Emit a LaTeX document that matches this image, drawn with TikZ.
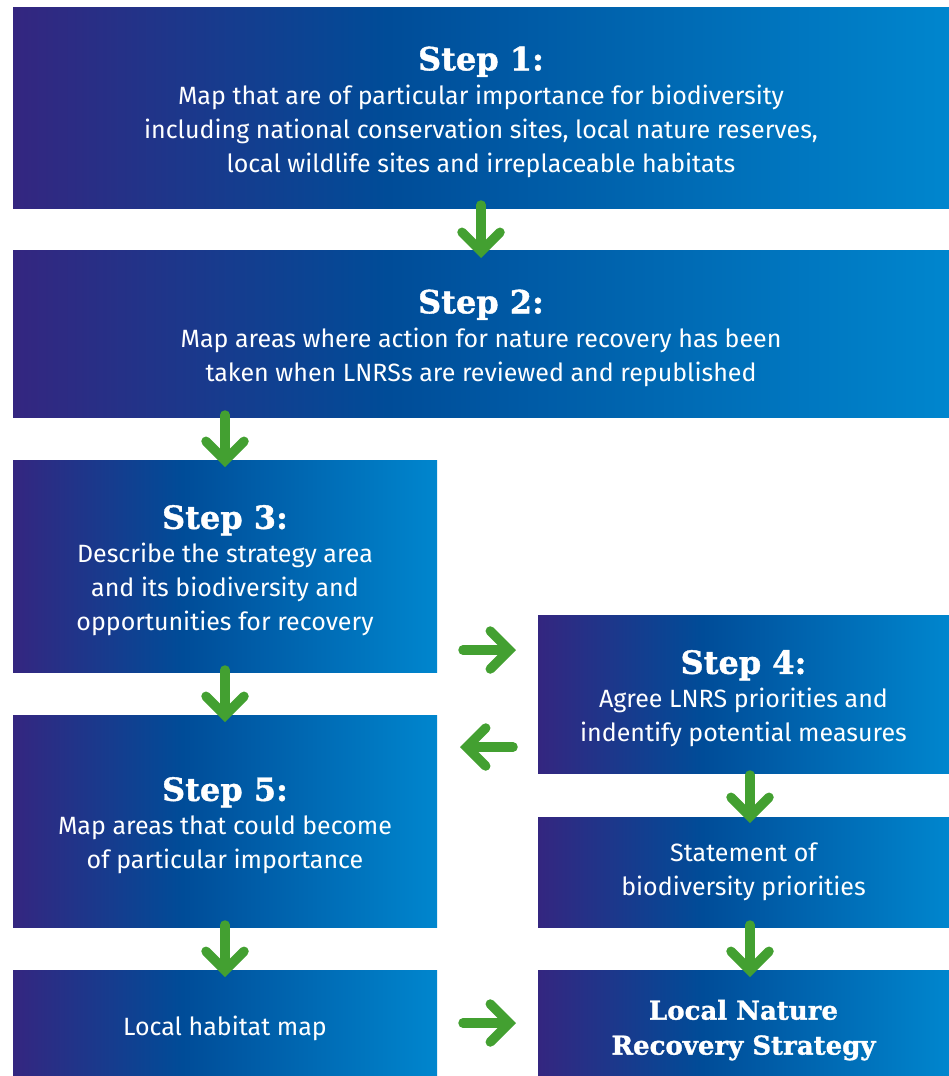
\documentclass[tikz,border=0pt]{standalone}
\usepackage{fontspec}
\setmainfont{Fira Sans}
\newfontfamily\headfont[BoldFeatures={FakeBold=1.2}]{DejaVu Serif}
\usetikzlibrary{arrows.meta}
\definecolor{cA}{RGB}{52,38,128}
\definecolor{cB}{RGB}{0,76,152}
\definecolor{cC}{RGB}{0,134,206}
\definecolor{garrowc}{RGB}{67,160,49}
\pgfdeclarehorizontalshading{boxshade}{100bp}{color(0bp)=(cA); color(25bp)=(cA); color(45bp)=(cB); color(75bp)=(cC); color(100bp)=(cC)}
\newcommand{\hd}[1]{{\headfont\bfseries\fontsize{32}{34}\selectfont\rule{0pt}{33pt}#1}}
\newcommand{\tstrut}[1]{\rule{0pt}{#1}}
\tikzset{
  box/.style={shading=boxshade, anchor=north west, inner sep=0pt, outer sep=0pt,
    text=white, align=center, font=\fontsize{25}{34}\selectfont},
  garrow/.style={draw=garrowc, line width=9.5pt, line cap=round,
    -{Straight Barb[length=19pt,width=38pt,line cap=round,line join=miter]}}
}
\begin{document}
\begin{tikzpicture}[x=1pt,y=1pt]
\useasboundingbox (0,0) rectangle (949,-1076);
\node[box, minimum width=936pt, minimum height=201pt] (b1) at (13,-7)
  {\hd{Step 1:}\\Map that are of particular importance for biodiversity\\including national conservation sites, local nature reserves,\\local wildlife sites and irreplaceable habitats};
\node[box, minimum width=936pt, minimum height=167pt] (b2) at (13,-250)
  {\hd{Step 2:}\\Map areas where action for nature recovery has been\\taken when LNRSs are reviewed and republished};
\node[box, minimum width=424pt, minimum height=212pt] (b3) at (13,-460)
  {\hd{Step 3:}\\Describe the strategy area\\and its biodiversity and\\opportunities for recovery};
\node[box, minimum width=424pt, minimum height=212pt] (b5) at (13,-715)
  {\hd{Step 5:}\\Map areas that could become\\of particular importance};
\node[box, minimum width=424pt, minimum height=106pt] (hab) at (13,-970)
  {\tstrut{31pt}Local habitat map};
\node[box, minimum width=411pt, minimum height=158pt] (b4) at (538,-615)
  {\hd{Step 4:}\\Agree LNRS priorities and\\indentify potential measures};
\node[box, minimum width=411pt, minimum height=110pt] (st) at (538,-817)
  {Statement of\\biodiversity priorities};
\node[box, minimum width=411pt, minimum height=106pt, font=\headfont\bfseries\fontsize{26}{35}\selectfont] (ln) at (538,-970)
  {\tstrut{34pt}Local Nature\\Recovery Strategy};
% arrows
\draw[garrow] ([yshift=3pt]b1.south) -- ([yshift=-8pt]b2.north);
\draw[garrow] ([yshift=2pt]b2.south -| b3.south) -- ([yshift=-7pt]b3.north);
\draw[garrow] ([yshift=2pt]b3.south) -- ([yshift=-7pt]b5.north);
\draw[garrow] ([yshift=2pt]b5.south) -- ([yshift=-7pt]hab.north);
\draw[garrow] ([xshift=6.5pt,yshift=-2pt]b4.south) -- ([xshift=6.5pt,yshift=-6pt]st.north);
\draw[garrow] ([xshift=6.5pt,yshift=2pt]st.south) -- ([xshift=6.5pt,yshift=-7pt]ln.north);
\draw[garrow] ([xshift=26pt,yshift=-190pt]b3.north east) -- ([xshift=-22pt,yshift=-35pt]b4.north west);
\draw[garrow] ([xshift=-25pt,yshift=-132pt]b4.north west) -- ([xshift=23pt,yshift=-32pt]b5.north east);
\draw[garrow] ([xshift=26pt]hab.east) -- ([xshift=-22pt]hab.east -| ln.west);
\end{tikzpicture}
\end{document}
